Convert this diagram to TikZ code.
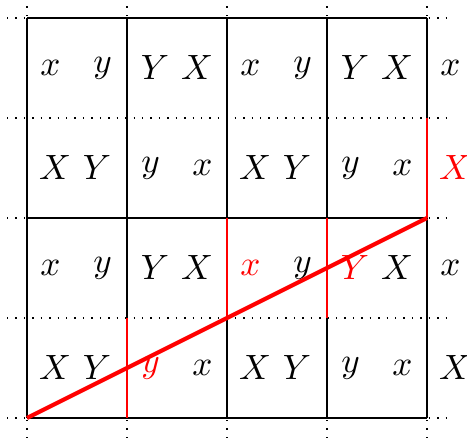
\documentclass[tikz,border=0pt]{standalone}
\begin{document}
\begin{tikzpicture}[lab/.style={inner sep=0pt},
  hot/.style={lab,text=red},
  cut/.style={red,thick},
  diag/.style={red,very thick}]
\useasboundingbox (-0.27,-0.21) rectangle (4.40,4.18);
\draw[dotted] (-0.2,-0.2) grid (4.2,4.2);
\foreach \x in {0,...,4} \draw (\x,0) -- (\x,4);
\foreach \y in {0,2,4} \draw (0,\y) -- (4,\y);
% row 4
\node[lab] (a1) at (0.235,3.5) {$x$};
\node[lab] (a2) at (0.755,3.5) {$y$};
\node[lab] (a3) at (1.28,3.5) {$Y$};
\node[lab] (a4) at (1.70,3.5) {$X$};
\node[lab] (a5) at (2.235,3.5) {$x$};
\node[lab] (a6) at (2.755,3.5) {$y$};
\node[lab] (a7) at (3.28,3.5) {$Y$};
\node[lab] (a8) at (3.70,3.5) {$X$};
\node[lab] (a9) at (4.235,3.5) {$x$};
% row 3
\node[lab] (b1) at (0.28,2.5) {$X$};
\node[lab] (b2) at (0.70,2.5) {$Y$};
\node[lab] (b3) at (1.235,2.5) {$y$};
\node[lab] (b4) at (1.755,2.5) {$x$};
\node[lab] (b5) at (2.28,2.5) {$X$};
\node[lab] (b6) at (2.70,2.5) {$Y$};
\node[lab] (b7) at (3.235,2.5) {$y$};
\node[lab] (b8) at (3.755,2.5) {$x$};
\node[hot] (b9) at (4.28,2.5) {$X$};
% row 2
\node[lab] (c1) at (0.235,1.5) {$x$};
\node[lab] (c2) at (0.755,1.5) {$y$};
\node[lab] (c3) at (1.28,1.5) {$Y$};
\node[lab] (c4) at (1.70,1.5) {$X$};
\node[hot] (c5) at (2.235,1.5) {$x$};
\node[lab] (c6) at (2.755,1.5) {$y$};
\node[hot] (c7) at (3.28,1.5) {$Y$};
\node[lab] (c8) at (3.70,1.5) {$X$};
\node[lab] (c9) at (4.235,1.5) {$x$};
% row 1
\node[lab] (d1) at (0.28,0.5) {$X$};
\node[lab] (d2) at (0.70,0.5) {$Y$};
\node[hot] (d3) at (1.235,0.5) {$y$};
\node[lab] (d4) at (1.755,0.5) {$x$};
\node[lab] (d5) at (2.28,0.5) {$X$};
\node[lab] (d6) at (2.70,0.5) {$Y$};
\node[lab] (d7) at (3.235,0.5) {$y$};
\node[lab] (d8) at (3.755,0.5) {$x$};
\node[lab] (d9) at (4.28,0.5) {$X$};
% red cuts
\coordinate (o) at (0,0);
\coordinate (p) at (4,2);
\coordinate (s1) at (1,0); \coordinate (t1) at (1,1);
\coordinate (s2) at (2,1); \coordinate (t2) at (2,2);
\coordinate (s3) at (3,1); \coordinate (t3) at (3,2);
\coordinate (s4) at (4,2); \coordinate (t4) at (4,3);
\draw[cut] (s1) -- (t1);
\draw[cut] (s2) -- (t2);
\draw[cut] (s3) -- (t3);
\draw[cut] (s4) -- (t4);
\draw[diag] (o) -- (p);
\end{tikzpicture}
\end{document}
